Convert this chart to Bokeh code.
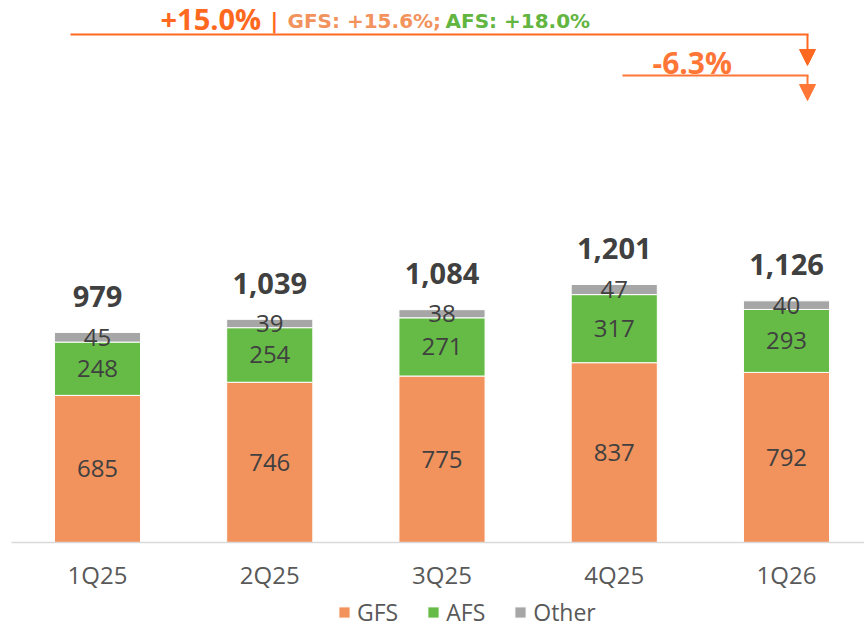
from bokeh.plotting import figure
from bokeh.models import Range1d, Arrow, NormalHead, Legend, LegendItem, ColumnDataSource, Label
from bokeh.core.properties import value
from bokeh.embed import file_html
from bokeh.resources import INLINE

# ---- data ----
quarters = ["1Q25", "2Q25", "3Q25", "4Q25", "1Q26"]
gfs = [685, 746, 775, 837, 792]
afs = [248, 254, 271, 317, 293]
other = [45, 39, 38, 47, 40]
totals = [979, 1039, 1084, 1201, 1126]
series_names = ["GFS", "AFS", "Other"]
growth_total = "+15.0%"
growth_gfs = "GFS: +15.6%;"
growth_afs = "AFS: +18.0%"
growth_qoq = "-6.3%"

# ---- layout helpers (page pixel -> data) ----
W, H = 864, 627
STEP = 172.25          # px per category
X0PX = 97              # page x of first category centre
K = 0.2148             # px per unit
BASE = 542             # page y of baseline


def X(px):
    return (px - X0PX) / STEP


def Y(py):
    return (BASE - py) / K


C_GFS, C_AFS, C_OTH = "#F2925C", "#65BB45", "#A6A6A6"
DARK, MID = "#404040", "#595959"
RED1, RED2 = "#FF691F", "#FF7636"

p = figure(width=W, height=H, output_backend="svg", toolbar_location=None,
           x_range=Range1d(X(0), X(W)), y_range=Range1d(Y(H), Y(0)),
           x_axis_location=None, y_axis_location=None, min_border=0)
p.grid.visible = False
p.outline_line_color = None
p.background_fill_color = "white"

xs = list(range(len(quarters)))
src = ColumnDataSource(dict(x=xs, GFS=gfs, AFS=afs, Other=other))
rs = p.vbar_stack(series_names, x="x", width=0.5, source=src,
                  fill_color=[C_GFS, C_AFS, C_OTH], line_color="white", line_width=1)

# baseline
p.segment(x0=[X(11)], y0=[0], x1=[X(W)], y1=[0], line_color="#D9D9D9", line_width=1.5)

# segment labels
mid_g = [g / 2 for g in gfs]
mid_a = [g + a / 2 for g, a in zip(gfs, afs)]
mid_o = [g + a + o / 2 for g, a, o in zip(gfs, afs, other)]
lab = ColumnDataSource(dict(
    x=xs * 3,
    y=mid_g + mid_a + mid_o,
    t=[str(v) for v in gfs + afs + other]))
p.text(x="x", y="y", text="t", source=lab, text_align="center", text_baseline="middle",
       text_font=value("Open Sans"), text_font_size="24px", text_color=DARK)

# totals
tot = ColumnDataSource(dict(x=xs, y=[t + 36 / K for t in totals], t=[f"{t:,}" for t in totals]))
p.text(x="x", y="y", text="t", source=tot, text_align="center", text_baseline="middle",
       text_font=value("Open Sans"), text_font_size="29px", text_font_style="bold", text_color=DARK)

# category labels
cat = ColumnDataSource(dict(x=xs, y=[Y(574)] * len(xs), t=quarters))
p.text(x="x", y="y", text="t", source=cat, text_align="center", text_baseline="middle",
       text_font=value("Open Sans"), text_font_size="24px", text_color=MID)

# legend
items = [LegendItem(label=n, renderers=[r]) for n, r in zip(series_names, rs)]
legend = Legend(items=items, location=(337, -1), orientation="horizontal",
                glyph_width=14, glyph_height=14, label_standoff=6, spacing=28,
                padding=0, margin=0, border_line_color=None, background_fill_alpha=0,
                label_text_font="Open Sans", label_text_font_size="23px", label_text_color=MID)
p.add_layout(legend)

# annotations: YoY arrow
p.add_layout(Arrow(end=None, x_start=X(70), y_start=Y(34), x_end=X(808), y_end=Y(34),
                   line_color=RED1, line_width=2))
p.add_layout(Arrow(end=NormalHead(size=16, fill_color=RED1, line_color=RED1),
                   x_start=X(807), y_start=Y(34), x_end=X(807), y_end=Y(65),
                   line_color=RED1, line_width=2))
# QoQ arrow
p.add_layout(Arrow(end=None, x_start=X(622), y_start=Y(75), x_end=X(808), y_end=Y(75),
                   line_color=RED2, line_width=2))
p.add_layout(Arrow(end=NormalHead(size=16, fill_color=RED2, line_color=RED2),
                   x_start=X(807), y_start=Y(75), x_end=X(807), y_end=Y(100),
                   line_color=RED2, line_width=2))

p.add_layout(Label(x=X(160), y=Y(18), text=growth_total, text_align="left", text_baseline="middle",
                   text_font="Open Sans", text_font_size="29px", text_font_style="bold", text_color=RED1))
p.add_layout(Label(x=X(270), y=Y(20), text="|", text_align="left", text_baseline="middle",
                   text_font="DejaVu Sans", text_font_size="21px", text_font_style="bold", text_color=RED1))
p.add_layout(Label(x=X(287), y=Y(20), text=growth_gfs, text_align="left", text_baseline="middle",
                   text_font="DejaVu Sans", text_font_size="20px", text_font_style="bold", text_color=C_GFS))
p.add_layout(Label(x=X(445), y=Y(20), text=growth_afs, text_align="left", text_baseline="middle",
                   text_font="DejaVu Sans", text_font_size="20px", text_font_style="bold", text_color="#62B540"))
p.add_layout(Label(x=X(652), y=Y(62), text=growth_qoq, text_align="left", text_baseline="middle",
                   text_font="Open Sans", text_font_size="30px", text_font_style="bold", text_color=RED2))

open("out.html", "w").write(file_html(p, INLINE))
